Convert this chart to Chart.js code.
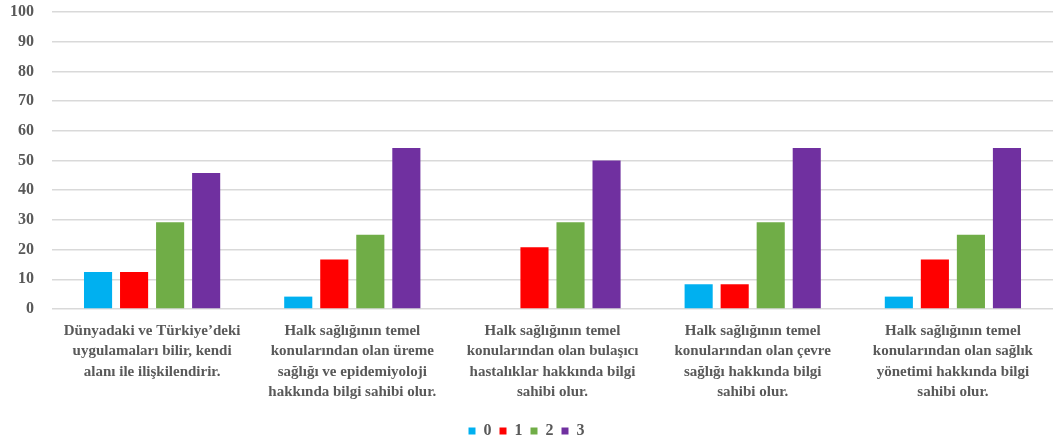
<!DOCTYPE html>
<html>
<head>
<meta charset="utf-8">
<script src="https://cdn.jsdelivr.net/npm/chart.js@4/dist/chart.umd.min.js"></script>
<style>
  body { margin: 0; background: #fff; }
  #wrap { width: 1060px; height: 446px; }
</style>
</head>
<body>
<div id="wrap"><canvas id="chart" width="1060" height="446"></canvas></div>
<script>
// Categories (multi-line labels)
const categories = [
  ["Dünyadaki ve Türkiye’deki", "uygulamaları bilir, kendi", "alanı ile ilişkilendirir."],
  ["Halk sağlığının temel", "konularından olan üreme", "sağlığı ve epidemiyoloji", "hakkında bilgi sahibi olur."],
  ["Halk sağlığının temel", "konularından olan bulaşıcı", "hastalıklar hakkında bilgi", "sahibi olur."],
  ["Halk sağlığının temel", "konularından olan çevre", "sağlığı hakkında bilgi", "sahibi olur."],
  ["Halk sağlığının temel", "konularından olan sağlık", "yönetimi hakkında bilgi", "sahibi olur."]
];

// Series values (%)
const series0 = [12.5, 4.17, 0, 8.33, 4.17];
const series1 = [12.5, 16.67, 20.83, 8.33, 16.67];
const series2 = [29.17, 25, 29.17, 29.17, 25];
const series3 = [45.83, 54.17, 50, 54.17, 54.17];

const seriesNames = ["0", "1", "2", "3"];
const yTicks = [0, 10, 20, 30, 40, 50, 60, 70, 80, 90, 100];

const colors = ["#00B0F0", "#FF0000", "#70AD47", "#7030A0"];
const textColor = "#595959";
const serif = "'Liberation Serif', 'Times New Roman', serif";

const ctx = document.getElementById("chart").getContext("2d");

new Chart(ctx, {
  type: "bar",
  data: {
    labels: categories,
    datasets: [series0, series1, series2, series3].map((d, i) => ({
      label: seriesNames[i],
      data: d,
      backgroundColor: colors[i],
      barPercentage: 0.78,
      categoryPercentage: 0.72
    }))
  },
  options: {
    responsive: false,
    animation: false,
    layout: { padding: { left: 0, right: 7, top: 12, bottom: -3 } },
    plugins: {
      tooltip: { enabled: false },
      legend: {
        position: "bottom",
        labels: {
          boxWidth: 7,
          boxHeight: 7,
          padding: 8,
          color: textColor,
          font: { family: serif, size: 16, weight: "bold" }
        }
      }
    },
    scales: {
      x: {
        afterFit: (axis) => { axis.height = 106; },
        grid: { display: false },
        border: { display: false },
        ticks: {
          autoSkip: false,
          maxRotation: 0,
          minRotation: 0,
          padding: 4,
          color: textColor,
          font: { family: serif, size: 15, weight: "bold", lineHeight: 1.35 }
        }
      },
      y: {
        min: 0,
        max: 100,
        afterBuildTicks: (axis) => { axis.ticks = yTicks.map((v) => ({ value: v })); },
        afterFit: (axis) => { axis.width = 52; axis.paddingTop = 0; axis.paddingBottom = 0; },
        grid: { color: "#d9d9d9", lineWidth: 1.5, drawTicks: false },
        border: { display: false },
        ticks: {
          padding: 18,
          color: textColor,
          font: { family: serif, size: 16, weight: "bold" }
        }
      }
    }
  }
});
</script>
</body>
</html>
